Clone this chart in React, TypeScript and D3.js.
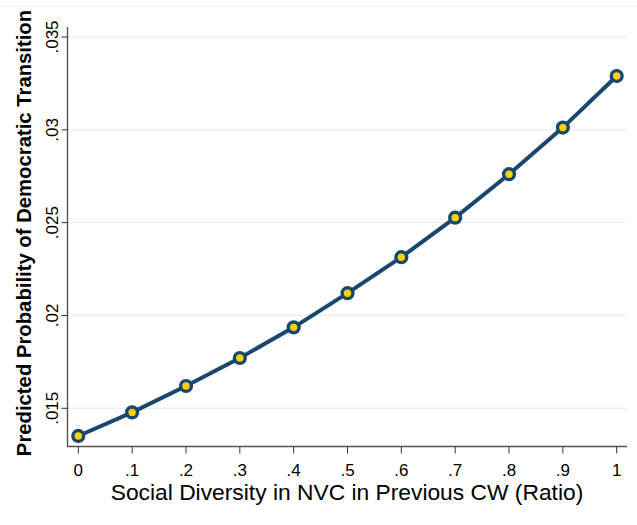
import React, { useEffect, useRef } from "react";
import * as d3 from "d3";

const xValues = [0, 0.1, 0.2, 0.3, 0.4, 0.5, 0.6, 0.7, 0.8, 0.9, 1];
const yValues = [0.01351, 0.01478, 0.0162, 0.01771, 0.01936, 0.0212, 0.02314, 0.02527, 0.02761, 0.03012, 0.0329];
const xTicks = [0, 0.1, 0.2, 0.3, 0.4, 0.5, 0.6, 0.7, 0.8, 0.9, 1];
const xTickLabels = ["0", ".1", ".2", ".3", ".4", ".5", ".6", ".7", ".8", ".9", "1"];
const yTicks = [0.015, 0.02, 0.025, 0.03, 0.035];
const yTickLabels = [".015", ".02", ".025", ".03", ".035"];
const xTitle = "Social Diversity in NVC in Previous CW (Ratio)";
const yTitle = "Predicted Probability of Democratic Transition";

const W = 637;
const H = 525;
const NAVY = "#1a476f";
const GOLD = "#ffd200";
const FONT = "'Liberation Sans', Arial, sans-serif";

export default function App() {
  const ref = useRef<SVGSVGElement>(null);
  useEffect(() => {
    const svg = d3.select(ref.current);
    svg.selectAll("*").remove();
    const left = 67.5, right = 627, top = 27, bottom = 446.5;
    const x = d3.scaleLinear().domain([0, 1]).range([78.3, 616.7]);
    const y = d3.scaleLinear().domain([0.015, 0.035]).range([408.3, 37]);

    svg.append("rect").attr("width", W).attr("height", H).attr("fill", "#fff");
    svg.append("line").attr("x1", 0).attr("x2", W).attr("y1", 6.5).attr("y2", 6.5)
      .attr("stroke", "#eaf2f3").attr("stroke-width", 1);

    // gridlines
    svg.append("g").selectAll("line").data(yTicks).join("line")
      .attr("x1", left).attr("x2", right)
      .attr("y1", (d) => y(d)).attr("y2", (d) => y(d))
      .attr("stroke", "#eaf2f3").attr("stroke-width", 1.3);

    // axes
    svg.append("line").attr("x1", left).attr("x2", left).attr("y1", top).attr("y2", bottom + 0.5)
      .attr("stroke", "#555").attr("stroke-width", 1.4);
    svg.append("line").attr("x1", left - 0.5).attr("x2", right).attr("y1", bottom).attr("y2", bottom)
      .attr("stroke", "#555").attr("stroke-width", 1.4);

    // y ticks
    const yt = svg.append("g");
    yt.selectAll("line").data(yTicks).join("line")
      .attr("x1", left - 6).attr("x2", left).attr("y1", (d) => y(d)).attr("y2", (d) => y(d))
      .attr("stroke", "#333").attr("stroke-width", 1);
    yt.selectAll("text").data(yTicks).join("text")
      .attr("transform", (d) => `translate(58,${y(d)}) rotate(-90)`)
      .attr("text-anchor", "middle")
      .attr("font-family", FONT).attr("font-size", 17).attr("fill", "#000")
      .text((d, i) => yTickLabels[i]);

    // x ticks
    const xt = svg.append("g");
    xt.selectAll("line").data(xTicks).join("line")
      .attr("x1", (d) => x(d)).attr("x2", (d) => x(d)).attr("y1", bottom).attr("y2", bottom + 7)
      .attr("stroke", "#333").attr("stroke-width", 1);
    xt.selectAll("text").data(xTicks).join("text")
      .attr("x", (d) => x(d)).attr("y", 475.5)
      .attr("text-anchor", "middle")
      .attr("font-family", FONT).attr("font-size", 17).attr("fill", "#000")
      .text((d, i) => xTickLabels[i]);

    // titles
    svg.append("text").attr("x", 347).attr("y", 500).attr("text-anchor", "middle")
      .attr("font-family", FONT).attr("font-size", 22.8).attr("fill", "#000").text(xTitle);
    svg.append("text").attr("transform", `translate(31,${233}) rotate(-90)`).attr("text-anchor", "middle")
      .attr("font-family", FONT).attr("font-size", 20.3).attr("font-weight", "bold").attr("fill", "#000").text(yTitle);

    // line
    const pts = xValues.map((v, i) => [v, yValues[i]] as [number, number]);
    svg.append("path").datum(pts)
      .attr("d", d3.line<[number, number]>().x((d) => x(d[0])).y((d) => y(d[1])))
      .attr("fill", "none").attr("stroke", NAVY).attr("stroke-width", 4);
    svg.append("g").selectAll("circle").data(pts).join("circle")
      .attr("cx", (d) => x(d[0])).attr("cy", (d) => y(d[1])).attr("r", 5.4)
      .attr("fill", GOLD).attr("stroke", NAVY).attr("stroke-width", 3.4);
  }, []);
  return (
    <svg ref={ref} width={W} height={H} style={{ position: "absolute", left: 0, top: 0 }} />
  );
}
